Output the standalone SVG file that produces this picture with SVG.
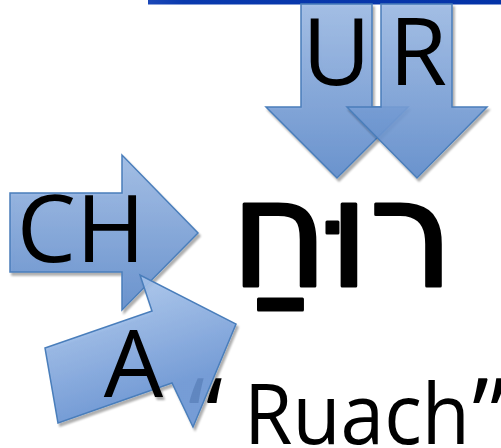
<svg xmlns="http://www.w3.org/2000/svg" width="501" height="448" viewBox="0 0 501 448">
<defs>
<linearGradient id="gv" x1="0" y1="0" x2="0" y2="1">
<stop offset="0" stop-color="#9dbbe6"/>
<stop offset="1" stop-color="#5e8bcc"/>
</linearGradient>
<linearGradient id="ga" gradientUnits="userSpaceOnUse" x1="128" y1="290" x2="160" y2="390">
<stop offset="0" stop-color="#a4c2ec"/>
<stop offset="1" stop-color="#6b96d6"/>
</linearGradient>
<linearGradient id="gbar" x1="0" y1="0" x2="1" y2="0">
<stop offset="0" stop-color="#1c48b8"/>
<stop offset="0.1" stop-color="#0a3aae"/>
<stop offset="1" stop-color="#0433a8"/>
</linearGradient>
<filter id="sh" x="-10%" y="-10%" width="130%" height="130%">
<feGaussianBlur in="SourceAlpha" stdDeviation="1.2"/>
<feOffset dx="2" dy="3" result="b"/>
<feComponentTransfer><feFuncA type="linear" slope="0.35"/></feComponentTransfer>
<feMerge><feMergeNode/><feMergeNode in="SourceGraphic"/></feMerge>
</filter>
</defs>
<style>
.arr{fill-opacity:0.88;stroke:#4a7ebb;stroke-width:1.5;stroke-linejoin:miter}
.lbl{font-family:"Open Sans","Liberation Sans",sans-serif;fill:#000}
.heb{font-family:"DejaVu Sans","Liberation Sans",sans-serif;fill:#000;stroke:#000;stroke-width:3;stroke-linejoin:round}
</style>
<rect x="148" y="0" width="353" height="4.5" fill="url(#gbar)"/>
<text class="lbl" y="444" font-size="84"><tspan x="188" font-size="100" dy="6">“</tspan><tspan x="244" dy="-6" textLength="226" lengthAdjust="spacingAndGlyphs">Ruach</tspan><tspan x="472" font-size="100" dy="6">”</tspan></text>
<text class="heb" x="454" y="286" font-size="150" text-anchor="end">רוּחַ</text>
<g id="connectors">
<g id="arrow-U" filter="url(#sh)">
<path class="arr" fill="url(#gv)" d="M301,4 H372 V107 H408 L337,178 L266,107 H301 Z"/>
<text class="lbl" x="336.5" y="85" font-size="94" text-anchor="middle">U</text>
</g>
<g id="arrow-R" filter="url(#sh)">
<path class="arr" fill="url(#gv)" d="M381,4 H452 V107 H487 L417,178 L347,107 H381 Z"/>
<text class="lbl" x="418" y="85" font-size="94" text-anchor="middle">R</text>
</g>
<g id="arrow-CH" filter="url(#sh)">
<path class="arr" fill="url(#gv)" d="M10,193 H122 V155 L198,233 L122,310 V272 H10 Z"/>
<text class="lbl" x="81" y="262" font-size="94" text-anchor="middle">CH</text>
</g>
<g id="arrow-A" filter="url(#sh)">
<path class="arr" fill="url(#ga)" d="M45,348 L152,311 L140,275 L236,324 L193,427 L172,383 L58,423 Z"/>
<text class="lbl" x="133.5" y="397" font-size="94" text-anchor="middle">A</text>
</g>
</g>
</svg>
